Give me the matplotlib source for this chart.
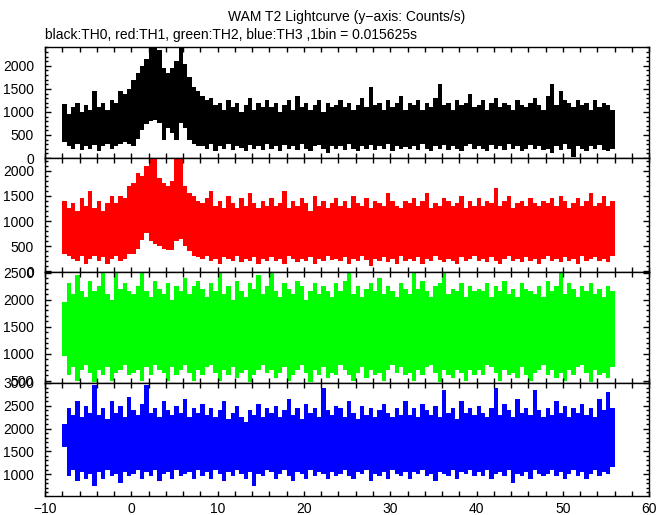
import numpy as np
import matplotlib
matplotlib.use("Agg")
import matplotlib.pyplot as plt
from matplotlib.ticker import MultipleLocator

plt.rcParams['font.family'] = ['Liberation Sans', 'DejaVu Sans']

# time axis (s), 0.5 s steps; values are min/max counts/s read per step
time_s = np.arange(-8.0, 56.01, 0.5)

th0_hi = [1180, 950, 1100, 1200, 1000, 1150, 1050, 1450, 1100, 1200, 1050, 1250, 1200, 1450, 1400, 1500,
          1700, 1850, 2000, 2150, 2400, 2400, 2350, 1950, 1850, 1950, 2100, 2400, 2050, 1750, 1550, 1450,
          1350, 1250, 1300, 1150, 1200, 1050, 1250, 1100, 1200, 1000, 1150, 1300, 1050, 1200, 1100, 1250,
          1100, 1200, 1000, 1150, 1250, 1050, 1350, 1100, 1200, 1050, 1150, 1250, 1000, 1200, 1100, 1150,
          1250, 1100, 1200, 1050, 1150, 1300, 1100, 1550, 1150, 1200, 1050, 1250, 1100, 1200, 1350, 1050,
          1200, 1150, 1250, 1050, 1200, 1100, 1300, 1600, 1150, 1200, 1050, 1250, 1150, 1200, 1400, 1100,
          1150, 1250, 1050, 1200, 1300, 1100, 1200, 1150, 1050, 1250, 1150, 1100, 1200, 1300, 1150, 1050,
          1350, 1600, 1150, 1450, 1250, 1200, 1100, 1250, 1150, 1200, 1050, 1250, 1100, 1200, 1150, 1050,
          1000]
th0_lo = [350, 250, 200, 300, 180, 250, 200, 280, 150, 250, 300, 200, 250, 300, 350, 300,
          250, 420, 600, 740, 800, 820, 760, 400, 650, 550, 400, 750, 650, 400, 300, 250,
          250, 200, 300, 150, 250, 200, 300, 180, 250, 220, 150, 280, 200, 250, 180, 300,
          200, 250, 150, 280, 200, 250, 180, 300, 200, 150, 250, 280, 200, 100, 250, 200,
          250, 180, 300, 200, 150, 250, 200, 280, 180, 250, 200, 300, 150, 250, 200, 230,
          200, 250, 180, 300, 200, 150, 250, 200, 280, 180, 250, 200, 150, 250, 300, 200,
          250, 200, 150, 280, 200, 250, 180, 300, 200, 250, 150, 200, 280, 200, 250, 180,
          200, 100, 250, 180, 300, 200, 30, 250, 200, 150, 250, 200, 280, 180, 150, 200,
          300]

th1_hi = [1400, 1250, 1350, 1200, 1450, 1300, 1600, 1250, 1400, 1200, 1350, 1500, 1350, 1500, 1450, 1700,
          1750, 1950, 1900, 2100, 2250, 2250, 1850, 1750, 1700, 1800, 2250, 2250, 1700, 1550, 1500, 1400,
          1350, 1450, 1600, 1300, 1400, 1250, 1500, 1350, 1250, 1450, 1300, 1550, 1350, 1250, 1400, 1300,
          1450, 1300, 1350, 1600, 1250, 1400, 1300, 1450, 1350, 1200, 1500, 1300, 1400, 1250, 1350, 1450,
          1300, 1400, 1250, 1500, 1350, 1300, 1450, 1250, 1400, 1350, 1300, 1550, 1400, 1300, 1250, 1400,
          1350, 1450, 1300, 1400, 1550, 1250, 1350, 1300, 1450, 1400, 1300, 1350, 1500, 1250, 1400, 1300,
          1450, 1300, 1400, 1350, 1650, 1300, 1400, 1500, 1250, 1350, 1400, 1300, 1450, 1350, 1300, 1400,
          1350, 1450, 1300, 1500, 1400, 1250, 1350, 1450, 1300, 1400, 1550, 1300, 1350, 1500, 1300, 1400,
          1250]
th1_lo = [350, 300, 250, 200, 300, 150, 250, 300, 200, 280, 150, 250, 300, 200, 250, 350,
          350, 450, 620, 770, 600, 550, 500, 450, 430, 420, 600, 650, 500, 400, 300, 280,
          250, 300, 200, 250, 150, 280, 250, 200, 300, 180, 250, 200, 280, 150, 250, 200,
          280, 200, 250, 150, 300, 250, 180, 250, 200, 280, 150, 250, 200, 300, 220, 250,
          200, 280, 150, 250, 200, 300, 220, 100, 250, 200, 280, 180, 250, 150, 300, 200,
          250, 200, 280, 150, 250, 200, 300, 220, 180, 250, 200, 150, 280, 200, 250, 300,
          200, 250, 180, 280, 200, 150, 250, 300, 200, 250, 180, 280, 200, 250, 150, 250,
          300, 200, 250, 180, 280, 200, 250, 150, 300, 200, 250, 280, 200, 250, 180, 300,
          300]

th2_hi = [1950, 2300, 2100, 2450, 2150, 2050, 2350, 2150, 2250, 2500, 2100, 2000, 2500, 2200, 2300, 2150,
          2100, 2250, 2500, 2150, 2050, 2350, 2200, 2100, 2300, 2000, 2250, 2150, 2400, 2100, 2250, 2350,
          2200, 2050, 2300, 2150, 2500, 2100, 2250, 2000, 2350, 2150, 2050, 2300, 2200, 2450, 2100, 2250,
          2500, 2150, 2050, 2300, 2200, 2100, 2350, 2250, 2000, 2150, 2300, 2100, 2250, 2150, 2050, 2300,
          2150, 2350, 2500, 2100, 2250, 2050, 2200, 2300, 2150, 2400, 2100, 2250, 2150, 2050, 2300, 2200,
          2100, 2500, 2200, 2350, 2150, 2050, 2250, 2300, 2500, 2100, 2200, 2150, 2300, 2050, 2250, 2150,
          2200, 2150, 2300, 2050, 2250, 2150, 2350, 2100, 2200, 2050, 2300, 2200, 2150, 2100, 2250, 2050,
          2350, 2150, 2250, 2500, 2100, 2300, 2200, 2050, 2250, 2150, 2300, 2100, 2200, 2050, 2250, 2150,
          2050]
th2_lo = [950, 600, 750, 500, 700, 800, 650, 480, 700, 600, 750, 500, 650, 700, 800, 600,
          650, 700, 500, 750, 600, 800, 700, 650, 500, 750, 600, 700, 800, 650, 500, 700,
          600, 750, 800, 650, 500, 700, 600, 750, 550, 650, 700, 480, 600, 700, 800, 650,
          700, 550, 650, 750, 500, 600, 700, 800, 650, 480, 700, 600, 750, 550, 650, 600,
          800, 700, 600, 500, 650, 750, 550, 700, 600, 650, 500, 700, 800, 650, 750, 600,
          650, 500, 700, 600, 750, 800, 650, 480, 700, 600, 550, 700, 650, 500, 700, 600,
          700, 600, 800, 750, 650, 500, 700, 600, 650, 550, 750, 600, 500, 650, 700, 800,
          600, 700, 550, 650, 500, 700, 600, 750, 800, 650, 480, 700, 600, 650, 550, 750,
          800]

th3_hi = [2100, 2450, 2300, 2600, 2250, 2500, 2350, 2950, 2300, 2450, 2200, 2600, 2350, 2500, 2250, 2700,
          2400, 2300, 2550, 2950, 2350, 2450, 2250, 2600, 2400, 2300, 2500, 2350, 2650, 2250, 2450, 2350,
          2550, 2300, 2450, 2250, 2400, 2600, 2200, 2350, 2500, 2250, 2150, 2400, 2300, 2550, 2250, 2450,
          2350, 2500, 2250, 2400, 2650, 2300, 2450, 2200, 2550, 2350, 2450, 2250, 2900, 2400, 2300, 2500,
          2450, 2250, 2600, 2350, 2200, 2500, 2300, 2450, 2250, 2400, 2550, 2350, 2250, 2450, 2300, 2600,
          2300, 2450, 2250, 2550, 2400, 2300, 2500, 2250, 2850, 2350, 2450, 2200, 2600, 2350, 2450, 2300,
          2500, 2350, 2250, 2450, 2900, 2300, 2550, 2400, 2250, 2650, 2350, 2450, 2300, 2850, 2400, 2250,
          2450, 2300, 2600, 2350, 2500, 2250, 2450, 2350, 2550, 2300, 2450, 2250, 2650, 2400, 2800, 2450,
          2300]
th3_lo = [1600, 950, 1100, 850, 1050, 900, 1000, 750, 1050, 900, 1100, 950, 1000, 800, 1050, 950,
          1000, 1100, 900, 1050, 950, 1100, 850, 1000, 1050, 900, 1100, 950, 1000, 1050, 900, 1100,
          950, 1050, 900, 1100, 1000, 850, 1050, 950, 1100, 1000, 900, 1050, 750, 1000, 950, 1100,
          1050, 900, 1000, 1100, 950, 850, 1050, 1000, 900, 1100, 950, 1050, 1000, 900, 1050, 950,
          1000, 1100, 950, 900, 1050, 1000, 1100, 850, 1000, 950, 1050, 900, 1100, 1000, 950, 1050,
          900, 1050, 1000, 1100, 950, 1000, 850, 1050, 1000, 950, 1100, 900, 1050, 1000, 1100, 950,
          1050, 950, 1100, 900, 1000, 1050, 950, 1100, 800, 1000, 950, 1050, 900, 1100, 1000, 950,
          1000, 1100, 950, 1050, 900, 1000, 1100, 950, 1050, 900, 1000, 1100, 950, 1050, 1000, 1150,
          1100]

colors = ['black', '#ff0000', '#00ff00', '#0000ff']
ylims = [(0, 2410), (-10, 2250), (460, 2510), (520, 3000)]
series = [(th0_lo, th0_hi), (th1_lo, th1_hi), (th2_lo, th2_hi), (th3_lo, th3_hi)]

# panel edges in pixels from the top of a 515 px tall figure
edges_px = [47, 158, 272, 383, 496]

fig = plt.figure(figsize=(6.72, 5.15), dpi=100)
for i, (lo, hi) in enumerate(series):
    top = 1 - edges_px[i] / 515
    bot = 1 - edges_px[i + 1] / 515
    ax = fig.add_axes([0.067, bot, 0.899, top - bot])
    ax.fill_between(time_s, lo, hi, step='post', color=colors[i], linewidth=0)
    ax.set_xlim(-10, 60)
    ax.set_ylim(*ylims[i])
    ax.xaxis.set_major_locator(MultipleLocator(10))
    ax.xaxis.set_minor_locator(MultipleLocator(2))
    ax.yaxis.set_major_locator(MultipleLocator(500))
    ax.yaxis.set_minor_locator(MultipleLocator(100))
    ax.tick_params(which='both', direction='in', top=True, right=True,
                   labelsize=10, width=1)
    ax.tick_params(axis='y', which='major', length=4, pad=8)
    ax.tick_params(axis='y', which='minor', length=2)
    ax.tick_params(axis='x', which='both', length=3.5, pad=4)
    if i < 3:
        ax.tick_params(axis='x', labelbottom=False)
    for sp in ax.spines.values():
        sp.set_linewidth(1)

fig.text(0.516, 0.967, 'WAM T2 Lightcurve (y\u2212axis: Counts/s)', ha='center', va='center', fontsize=10)
fig.text(0.067, 0.932, 'black:TH0, red:TH1, green:TH2, blue:TH3 ,1bin = 0.015625s',
         ha='left', va='center', fontsize=10)

fig.savefig('out.png', dpi=100)
